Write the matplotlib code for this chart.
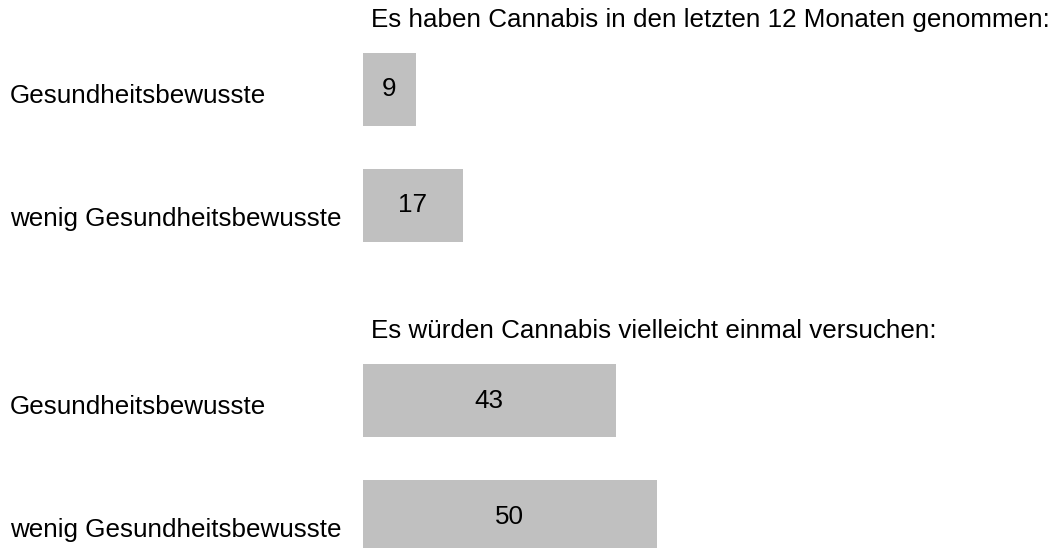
import matplotlib.pyplot as plt
import matplotlib.transforms as mtransforms

plt.rcParams['font.family'] = ['Liberation Sans', 'DejaVu Sans']
SIZE = 18.7

# survey data
titles = ["Es haben Cannabis in den letzten 12 Monaten genommen:",
          "Es würden Cannabis vielleicht einmal versuchen:"]
groups = ["Gesundheitsbewusste", "wenig Gesundheitsbewusste"]
took_last_year = [9, 17]
might_try = [43, 50]

values = [took_last_year, might_try]

# layout (pixel based, 116 px per row)
ROW = 116.0
GROUP_GAP = 195.0 / ROW
BAR_H = 73.0 / ROW
PX_PER_UNIT = 5.875
label_dy = [13.5 / ROW, 20.5 / ROW]

fig = plt.figure(figsize=(10.54, 5.48), dpi=100)
ax = fig.add_axes([363 / 1054, 0, 691 / 1054, 1])
ax.set_xlim(0, 691 / PX_PER_UNIT)
ax.set_ylim((548 - 89.5) / ROW, -89.5 / ROW)
ax.axis('off')

trans = mtransforms.blended_transform_factory(fig.transFigure, ax.transData)

for g, (title, vals) in enumerate(zip(titles, values)):
    pos = [g * (1 + GROUP_GAP) + i for i in range(len(vals))]
    ax.barh(pos, vals, height=BAR_H, color="#c0c0c0", left=0)
    ax.text(8 / PX_PER_UNIT, pos[0] - 62 / ROW, title, fontsize=SIZE,
            ha='left', va='baseline', color='k')
    for i, (p, v) in enumerate(zip(pos, vals)):
        ax.text(v / 2, p, str(v), fontsize=SIZE, ha='center', va='center',
                color='k')
        ax.text(10 / 1054, p + label_dy[i], groups[i], fontsize=SIZE,
                ha='left', va='baseline', transform=trans, clip_on=False)

fig.savefig("out.png", dpi=100)
